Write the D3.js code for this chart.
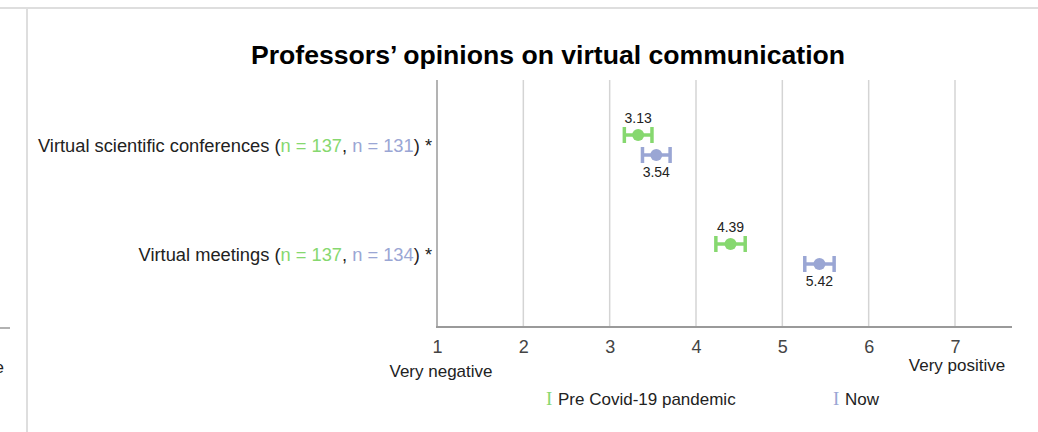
<!DOCTYPE html>
<html>
<head>
<meta charset="utf-8">
<script src="https://cdn.jsdelivr.net/npm/d3@7"></script>
<style>
  body { margin: 0; background: #fff; }
  svg { font-family: "Liberation Sans", Arial, sans-serif; }
</style>
</head>
<body>
<div id="chart"></div>
<script>
// data
const categories = ['Virtual scientific conferences', 'Virtual meetings'];
const seriesNames = ['Pre Covid-19 pandemic', 'Now'];
const sampleSizes = [[137, 131], [137, 134]];
const preMeans = [3.33, 4.40];      // where the marks sit
const nowMeans = [3.54, 5.43];
const preLabels = ['3.13', '4.39'];  // labels as printed
const nowLabels = ['3.54', '5.42'];
const preErr = [0.16, 0.17];
const nowErr = [0.16, 0.17];
const tickValues = [1, 2, 3, 4, 5, 6, 7];
const colors = ['#86d86f', '#9aa6d4'];

const W = 1038, H = 432;
const svg = d3.select('#chart').append('svg')
  .attr('width', W).attr('height', H);

// frame bits around the panel (neighbouring panel edge on the left)
svg.append('line').attr('x1', 0).attr('x2', W).attr('y1', 8).attr('y2', 8)
  .attr('stroke', '#dedede').attr('stroke-width', 2);
svg.append('line').attr('x1', 27).attr('x2', 27).attr('y1', 9).attr('y2', H)
  .attr('stroke', '#dedede').attr('stroke-width', 2);
svg.append('line').attr('x1', 0).attr('x2', 10).attr('y1', 328).attr('y2', 328)
  .attr('stroke', '#999').attr('stroke-width', 1.5);
svg.append('text').attr('x', 4).attr('y', 373).attr('text-anchor', 'end')
  .attr('font-size', 17).attr('fill', '#222').text('Very positive');

const x = d3.scaleLinear().domain([1, 7]).range([437, 955]);
const y = d3.scalePoint().domain(categories).range([145, 254]);
const off = d3.scalePoint().domain(seriesNames).range([-10, 10]);
const plotTop = 80, plotBottom = 327;

svg.append('text')
  .attr('x', 548).attr('y', 64).attr('text-anchor', 'middle')
  .attr('font-size', 26.6).attr('font-weight', 'bold').attr('fill', '#000')
  .text('Professors\u2019 opinions on virtual communication');

// grid lines
svg.append('g').selectAll('line')
  .data(tickValues.slice(1))
  .enter().append('line')
  .attr('x1', d => x(d)).attr('x2', d => x(d))
  .attr('y1', plotTop).attr('y2', plotBottom)
  .attr('stroke', '#d4d4d4').attr('stroke-width', 1.5);

// axes
const xAxis = svg.append('g')
  .attr('transform', 'translate(0,' + plotBottom + ')')
  .call(d3.axisBottom(x).tickValues(tickValues).tickSize(0).tickPadding(13).tickFormat(d3.format('d')));
xAxis.select('.domain').remove();
xAxis.selectAll('text').attr('font-size', 18).attr('fill', '#444')
  .attr('font-family', '"Liberation Sans", Arial, sans-serif');
svg.append('line').attr('x1', 436).attr('x2', 1012).attr('y1', plotBottom).attr('y2', plotBottom)
  .attr('stroke', '#9a9a9a').attr('stroke-width', 2);
svg.append('line').attr('x1', 437).attr('x2', 437).attr('y1', plotTop).attr('y2', plotBottom)
  .attr('stroke', '#9a9a9a').attr('stroke-width', 1.5);

svg.append('text').attr('x', 441).attr('y', 377).attr('text-anchor', 'middle')
  .attr('font-size', 17).attr('fill', '#222').text('Very negative');
svg.append('text').attr('x', 957).attr('y', 371).attr('text-anchor', 'middle')
  .attr('font-size', 17).attr('fill', '#222').text('Very positive');

// category labels with coloured n
const lab = svg.append('g').selectAll('text')
  .data(categories)
  .enter().append('text')
  .attr('x', 432).attr('y', d => y(d) + 6.5)
  .attr('text-anchor', 'end').attr('font-size', 18.3).attr('fill', '#222');
lab.each(function(d, i) {
  const t = d3.select(this);
  t.append('tspan').text(d + ' (');
  t.append('tspan').attr('fill', colors[0]).text('n = ' + sampleSizes[i][0]);
  t.append('tspan').text(', ');
  t.append('tspan').attr('fill', colors[1]).text('n = ' + sampleSizes[i][1]);
  t.append('tspan').text(') *');
});

// error bars + means
const series = [
  { name: seriesNames[0], means: preMeans, err: preErr, labels: preLabels, color: colors[0], dy: -12 },
  { name: seriesNames[1], means: nowMeans, err: nowErr, labels: nowLabels, color: colors[1], dy: 22 }
];
series.forEach(s => {
  const g = svg.append('g');
  const rows = categories.map((c, i) => ({ c, m: s.means[i], e: s.err[i], l: s.labels[i] }));
  const cy = d => y(d.c) + off(s.name);
  g.selectAll('.bar').data(rows).enter().append('line')
    .attr('x1', d => x(d.m - d.e)).attr('x2', d => x(d.m + d.e))
    .attr('y1', cy).attr('y2', cy)
    .attr('stroke', s.color).attr('stroke-width', 3.5);
  [-1, 1].forEach(sign => {
    g.selectAll('.cap' + sign).data(rows).enter().append('line')
      .attr('x1', d => x(d.m + sign * d.e)).attr('x2', d => x(d.m + sign * d.e))
      .attr('y1', d => cy(d) - 8).attr('y2', d => cy(d) + 8)
      .attr('stroke', s.color).attr('stroke-width', 3.5);
  });
  g.selectAll('circle').data(rows).enter().append('circle')
    .attr('cx', d => x(d.m)).attr('cy', cy).attr('r', 6)
    .attr('fill', s.color);
  g.selectAll('text').data(rows).enter().append('text')
    .attr('x', d => x(d.m)).attr('y', d => cy(d) + s.dy)
    .attr('text-anchor', 'middle').attr('font-size', 14).attr('fill', '#222')
    .text(d => d.l);
});

// legend
const legend = svg.append('g');
const legX = [546, 833];
seriesNames.forEach((n, i) => {
  legend.append('text').attr('x', legX[i]).attr('y', 405)
    .attr('font-size', 19).attr('font-family', '"Liberation Serif", serif')
    .attr('fill', colors[i]).text('I');
  legend.append('text').attr('x', legX[i] + 12).attr('y', 405)
    .attr('font-size', 17).attr('fill', '#222').text(n);
});
</script>
</body>
</html>
